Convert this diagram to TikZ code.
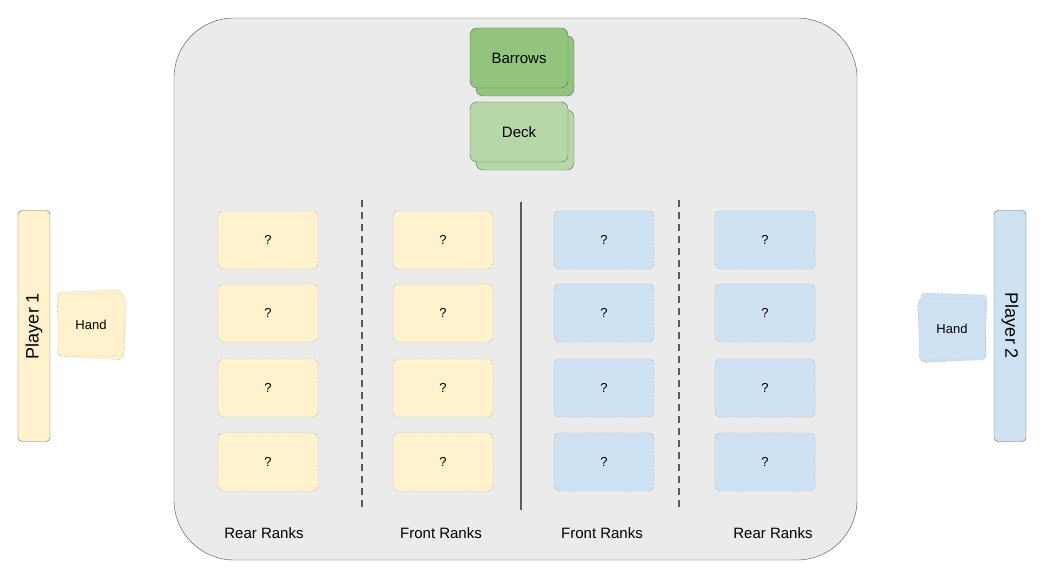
\documentclass[tikz,border=0pt]{standalone}
\usepackage{fontspec}
\setmainfont{Liberation Sans}
\usetikzlibrary{positioning}

\definecolor{boardgray}{HTML}{EBEBEB}
\definecolor{pone}{HTML}{FFF2CC}
\definecolor{ptwo}{HTML}{CFE2F3}
\definecolor{darkgreen}{HTML}{93C47D}
\definecolor{lightgreen}{HTML}{B6D7A8}

\begin{document}
\begin{tikzpicture}[x=1pt,y=-1pt,
    board/.style={draw=black!70, fill=boardgray, rounded corners=60pt},
    slot/.style={rectangle, draw=black!55, densely dotted, rounded corners=5pt, minimum width=100pt, minimum height=58pt, font=\fontsize{13}{15}\selectfont},
    yellow/.style={fill=pone},
    blue/.style={fill=ptwo},
    pile/.style={rectangle, draw=black!60, rounded corners=7pt, minimum width=98pt, minimum height=60pt, font=\fontsize{15}{18}\selectfont},
    player/.style={rectangle, draw=black!60, rounded corners=4pt, minimum width=231pt, minimum height=32pt, font=\fontsize{18}{21}\selectfont},
    hand/.style={rectangle, draw=black!55, dotted, rounded corners=4pt, minimum width=66pt, minimum height=62pt, font=\fontsize{13}{15}\selectfont},
    divider/.style={draw=black!65, line width=1.5pt},
    rank/.style={font=\fontsize{15}{18}\selectfont}
]
    \useasboundingbox (0,0) rectangle (1048,577);

    % table
    \draw[board] (174,18) rectangle (857,560);

    % barrows and deck
    \node[pile, fill=darkgreen] (barrowsback) at (525,66) {};
    \node[pile, fill=darkgreen] (barrows) at (519,58) {Barrows};
    \node[pile, fill=lightgreen] (deckback) at (525,140) {};
    \node[pile, fill=lightgreen] (deck) at (519,132) {Deck};

    % ranks
    \foreach \col/\x/\c in {a/268/yellow, b/443/yellow, c/604/blue, d/765/blue}
        \foreach \row/\y in {1/240, 2/313, 3/388, 4/462}
            \node[slot, \c] (\col\row) at (\x,\y) {?};

    \coordinate (lt) at (362,200); \coordinate (lb) at (362,510);
    \coordinate (mt) at (521,202); \coordinate (mb) at (521,510);
    \coordinate (rt) at (679,200); \coordinate (rb) at (679,510);
    \draw[divider, dashed, dash pattern=on 7pt off 5pt] (lt) -- (lb);
    \draw[divider, line width=2pt] (mt) -- (mb);
    \draw[divider, dashed, dash pattern=on 7pt off 5pt] (rt) -- (rb);

    \node[rank] (rear1) at (264,533) {Rear Ranks};
    \node[rank] (front1) at (441,533) {Front Ranks};
    \node[rank] (front2) at (602,533) {Front Ranks};
    \node[rank] (rear2) at (773,533) {Rear Ranks};

    % players
    \node[player, fill=pone, rotate=90] (player1) at (34,326) {Player 1};
    \node[player, fill=ptwo, rotate=-90] (player2) at (1010,326) {Player 2};

    % hands
    \node[hand, fill=pone, rotate=-3] at (92,327) {};
    \node[hand, fill=pone, rotate=2] at (91,322) {};
    \node[hand, fill=pone] (hand1) at (91,325) {Hand};
    \node[hand, fill=ptwo, rotate=3] at (952,330) {};
    \node[hand, fill=ptwo, rotate=-2] at (953,325) {};
    \node[hand, fill=ptwo] (hand2) at (952,329) {Hand};
\end{tikzpicture}
\end{document}
